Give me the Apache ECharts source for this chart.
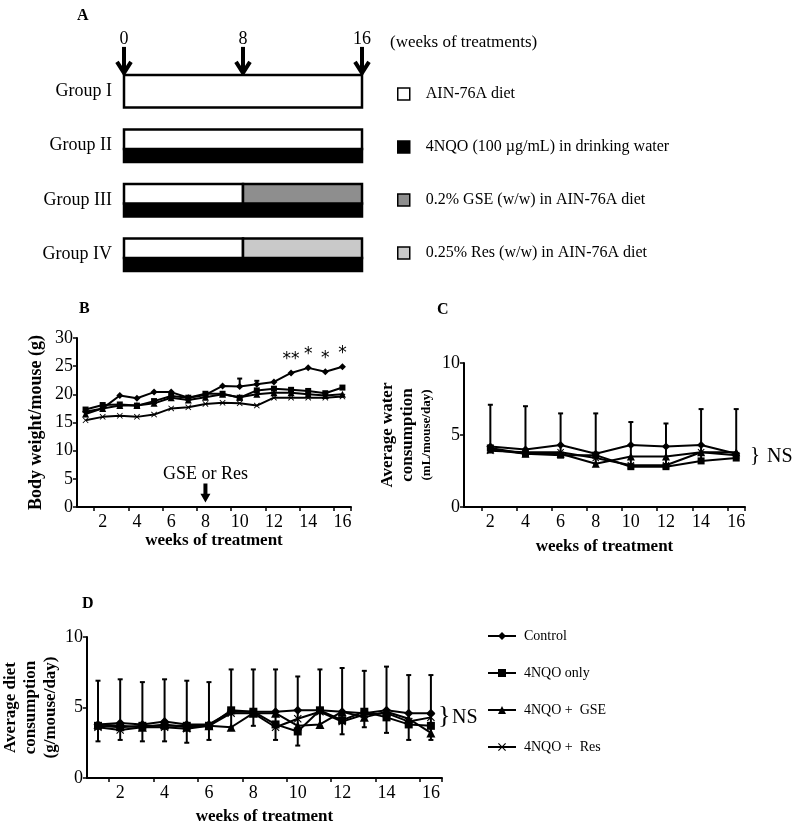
<!DOCTYPE html>
<head>
    <meta charset="utf-8">
    <title>ECharts</title>
</head>
<body style="margin:0">

<div id="main" style="height:830px;width:800px"></div>
<script src="https://cdn.jsdelivr.net/npm/echarts@6/dist/echarts.min.js"></script>

<script type="text/javascript">
// ---- panel A : treatment schedule ----
var groups = ['Group I', 'Group II', 'Group III', 'Group IV'];
var dietAIN = [[0, 16, 'Group I'], [0, 16, 'Group II'], [0, 8, 'Group III'], [0, 8, 'Group IV']];
var dietGSE = [[8, 16, 'Group III']];
var dietRes = [[8, 16, 'Group IV']];
var water4NQO = [[0, 16, 'Group II'], [0, 16, 'Group III'], [0, 16, 'Group IV']];
var arrowWeeks = [0, 8, 16];

// ---- panels B, C, D ----
var weeks = ['1','2','3','4','5','6','7','8','9','10','11','12','13','14','15','16'];
var seriesNames = ['Control', '4NQO only', '4NQO +  GSE', '4NQO +  Res'];

// B: body weight (g), weeks 1-16
var ctrlB = [16.9,17.5,19.8,19.3,20.4,20.4,19.4,19.9,21.5,21.4,21.8,22.2,23.8,24.7,24.0,24.9];
var nqoB  = [17.3,18.1,18.2,18.0,18.8,19.7,19.4,20.1,20.1,19.4,20.7,21.0,20.8,20.6,20.2,21.2];
var gseB  = [16.5,17.5,18.0,18.0,18.4,19.4,19.0,19.5,20.0,19.5,20.0,20.3,20.3,20.0,19.8,20.0];
var resB  = [15.4,16.0,16.2,16.0,16.4,17.5,17.7,18.3,18.5,18.4,18.0,19.4,19.4,19.4,19.4,19.6];
var ctrlBTop = [null,null,null,null,null,null,null,null,null,22.8,22.4,null,null,null,null,null];
var starsB = ['','','','','','','','','','','','','**','*','*','*'];

// C: water consumption, weeks 2,4,...,16
var weeksC = ['2','4','6','8','10','12','14','16'];
var ctrlC = [4.2,4.0,4.3,3.7,4.3,4.2,4.3,3.7];
var nqoC  = [4.1,3.7,3.6,3.6,2.8,2.8,3.2,3.4];
var gseC  = [4.0,3.7,3.7,3.0,3.5,3.5,3.8,3.8];
var resC  = [3.9,3.8,3.8,3.4,2.9,2.9,3.8,3.6];
var errCTop = [7.1,7.0,6.5,6.5,5.9,5.8,6.8,6.8];

// D: diet consumption, weeks 1-16
var ctrlD = [3.8,3.9,3.8,4.0,3.8,3.8,4.7,4.7,4.7,4.8,4.8,4.7,4.6,4.8,4.6,4.6];
var nqoD  = [3.7,3.6,3.7,3.7,3.7,3.7,4.8,4.7,3.8,3.3,4.8,4.1,4.7,4.3,3.8,3.7];
var gseD  = [3.8,3.7,3.6,3.8,3.6,3.7,3.6,4.6,4.6,3.7,3.8,4.7,4.3,4.7,4.2,3.2];
var resD  = [3.6,3.4,3.6,3.6,3.5,3.7,4.6,4.6,3.6,4.2,4.7,4.0,4.5,4.6,4.0,4.3];
var errDLow  = [2.6,2.7,2.6,2.6,2.5,2.7,3.6,3.7,2.7,2.3,3.7,3.1,3.6,3.2,2.7,2.7];
var errDHigh = [6.9,7.0,6.8,7.0,6.9,6.8,7.7,7.7,7.7,7.2,7.7,7.8,7.6,7.9,7.3,7.3];

var FONT = 'Liberation Serif';
var xPath = 'path://M0,1 L1,0 L5,4 L9,0 L10,1 L6,5 L10,9 L9,10 L5,6 L1,10 L0,9 L4,5 Z';
var symbols = ['diamond', 'rect', 'triangle', xPath];
var symSizes = [8, 7, 8, 7];

var myChart = echarts.init(document.getElementById('main'));

function waterHas(gi) {
    for (var i = 0; i < water4NQO.length; i++) {
        if (groups.indexOf(water4NQO[i][2]) === gi) return true;
    }
    return false;
}

function segRender(kind) {
    return function (params, api) {
        var gi = api.value(2);
        var s = api.coord([api.value(0), gi]);
        var e = api.coord([api.value(1), gi]);
        var h = api.size([0, 1])[1] * 0.6;
        var top = s[1] - h / 2;
        var y = top, hh = h;
        if (kind === 'diet') {
            hh = waterHas(gi) ? h * 0.6 : h;
        } else {
            y = top + h * 0.6;
            hh = h * 0.4;
        }
        return {
            type: 'rect',
            shape: { x: s[0], y: y, width: e[0] - s[0], height: hh },
            style: { fill: api.visual('color'), stroke: '#000', lineWidth: 2.5 }
        };
    };
}

function segData(arr) {
    return arr.map(function (d) { return [d[0], d[1], groups.indexOf(d[2])]; });
}

function arrowRender(params, api) {
    var p = api.coord([api.value(0), 0]);
    var h = api.size([0, 1])[1] * 0.6;
    var top = p[1] - h / 2 - 1;
    return {
        type: 'group',
        children: [
            { type: 'line', shape: { x1: p[0], y1: top - 27, x2: p[0], y2: top - 2 },
              style: { stroke: '#000', lineWidth: 4 } },
            { type: 'polyline', shape: { points: [[p[0] - 7, top - 12], [p[0], top - 1], [p[0] + 7, top - 12]] },
              style: { stroke: '#000', lineWidth: 4, fill: null } }
        ]
    };
}

function errRender(params, api) {
    var lo = api.coord([api.value(0), api.value(1)]);
    var hi = api.coord([api.value(0), api.value(2)]);
    var w = 2.5;
    return {
        type: 'group',
        children: [
            { type: 'line', shape: { x1: lo[0], y1: lo[1], x2: hi[0], y2: hi[1] }, style: { stroke: '#000', lineWidth: 2 } },
            { type: 'line', shape: { x1: hi[0] - w, y1: hi[1], x2: hi[0] + w, y2: hi[1] }, style: { stroke: '#000', lineWidth: 2 } },
            { type: 'line', shape: { x1: lo[0] - w, y1: lo[1], x2: lo[0] + w, y2: lo[1] }, style: { stroke: '#000', lineWidth: 2 } }
        ]
    };
}

// place weeks-2..16 values of panel C on the 16-week category axis
function onWeeks(vals) {
    var out = weeks.map(function () { return null; });
    weeksC.forEach(function (w, i) { out[weeks.indexOf(w)] = vals[i]; });
    return out;
}

function lineSeries(name, data, xi, sym, size) {
    return {
        name: name, type: 'line', xAxisIndex: xi, yAxisIndex: xi,
        data: data, connectNulls: true, symbol: sym, symbolSize: size,
        lineStyle: { color: '#000', width: 2 },
        itemStyle: { color: '#000' },
        z: 5
    };
}

var axisLine = { show: true, lineStyle: { color: '#000', width: 2 } };
var tick = { show: true, length: 4, lineStyle: { color: '#000', width: 1.5 } };
var lab = { color: '#000', fontSize: 18, fontFamily: FONT };
var nameStyle = { color: '#000', fontSize: 17, fontWeight: 'bold', fontFamily: FONT };
var evenLabels = function (i) { return i % 2 === 1; };

var catX = function (gi, gap) {
    return {
        type: 'category', gridIndex: gi, data: weeks, boundaryGap: true,
        axisLine: axisLine, axisTick: tick,
        axisLabel: Object.assign({ interval: evenLabels, margin: 6 }, lab),
        name: 'weeks of treatment', nameLocation: 'middle', nameGap: gap,
        nameTextStyle: nameStyle
    };
};

var series = [];
// panel A
var aSeries = [
    { name: 'AIN-76A diet', color: '#ffffff', data: dietAIN, kind: 'diet' },
    { name: '4NQO (100 \u00b5g/mL) in drinking water', color: '#000000', data: water4NQO, kind: 'water' },
    { name: '0.2% GSE (w/w) in AIN-76A diet', color: '#8e8e8e', data: dietGSE, kind: 'diet' },
    { name: '0.25% Res (w/w) in AIN-76A diet', color: '#c9c9c9', data: dietRes, kind: 'diet' }
];
aSeries.forEach(function (s) {
    series.push({
        name: s.name, type: 'custom', xAxisIndex: 0, yAxisIndex: 0,
        renderItem: segRender(s.kind), data: segData(s.data),
        encode: { x: [0, 1], y: 2 },
        itemStyle: { color: s.color, borderColor: '#000', borderWidth: 1.5 },
        z: s.kind === 'water' ? 2 : 3
    });
});
series.push({
    type: 'custom', xAxisIndex: 0, yAxisIndex: 0, renderItem: arrowRender,
    data: arrowWeeks.map(function (w) { return [w]; }), encode: { x: 0 }, silent: true
});

// panel B
var dataB = [ctrlB, nqoB, gseB, resB];
dataB.forEach(function (arr, k) {
    var s = lineSeries(seriesNames[k], arr, 1, symbols[k], symSizes[k] - 1);
    if (k === 0) {
        s.data = arr.map(function (v, i) {
            return { value: v, label: { show: !!starsB[i], formatter: starsB[i], position: 'top',
                distance: 1, fontSize: 17, color: '#000', fontFamily: 'DejaVu Sans' } };
        });
        s.markPoint = {
            symbol: 'path://M3,0 L7,0 L7,11 L10,11 L5,20 L0,11 L3,11 Z',
            symbolSize: [10, 19],
            itemStyle: { color: '#000' },
            label: { show: true, position: 'top', distance: 0, formatter: 'GSE or Res',
                fontSize: 18, color: '#000', fontFamily: FONT },
            data: [{ coord: ['8', 2.5] }]
        };
    }
    series.push(s);
});
series.push({
    type: 'custom', xAxisIndex: 1, yAxisIndex: 1, renderItem: errRender, silent: true,
    encode: { x: 0, y: [1, 2] },
    data: ctrlBTop.map(function (t, i) { return t === null ? null : [i, ctrlB[i], t]; })
        .filter(function (d) { return d; })
});

// panel C
var dataC = [ctrlC, nqoC, gseC, resC];
dataC.forEach(function (arr, k) {
    series.push(lineSeries(seriesNames[k], onWeeks(arr), 2, symbols[k], symSizes[k]));
});
series.push({
    type: 'custom', xAxisIndex: 2, yAxisIndex: 2, renderItem: errRender, silent: true,
    encode: { x: 0, y: [1, 2] },
    data: weeksC.map(function (w, i) {
        return [weeks.indexOf(w), Math.min(ctrlC[i], nqoC[i], gseC[i], resC[i]), errCTop[i]];
    })
});

// panel D
var dataD = [ctrlD, nqoD, gseD, resD];
dataD.forEach(function (arr, k) {
    series.push(lineSeries(seriesNames[k], arr, 3, symbols[k], symSizes[k] + 1));
});
series.push({
    type: 'custom', xAxisIndex: 3, yAxisIndex: 3, renderItem: errRender, silent: true,
    encode: { x: 0, y: [1, 2] },
    data: weeks.map(function (w, i) { return [i, errDLow[i], errDHigh[i]]; })
});

var letter = function (t, x, y) {
    return { type: 'text', left: x, top: y,
        style: { text: t, fontSize: 16, fontWeight: 'bold', fontFamily: FONT, fill: '#000' } };
};

var option = {
    animation: false,
    backgroundColor: '#fff',
    textStyle: { fontFamily: FONT },
    grid: [
        { left: 124, top: 64, width: 238, height: 218 },
        { left: 77, top: 338, width: 274, height: 169 },
        { left: 464, top: 363, width: 281, height: 144 },
        { left: 82, top: 637, width: 360, height: 141 }
    ],
    xAxis: [
        { type: 'value', gridIndex: 0, min: 0, max: 16, interval: 8, position: 'top',
          axisLine: { show: false }, axisTick: { show: false }, splitLine: { show: false },
          axisLabel: Object.assign({ margin: 16 }, lab) },
        catX(1, 24), catX(2, 31), catX(3, 30)
    ],
    yAxis: [
        { type: 'category', gridIndex: 0, data: groups, inverse: true,
          axisLine: { show: false }, axisTick: { show: false },
          axisLabel: Object.assign({ margin: 12 }, lab) },
        { type: 'value', gridIndex: 1, min: 0, max: 30, interval: 5,
          axisLine: axisLine, axisTick: tick, splitLine: { show: false },
          axisLabel: Object.assign({ margin: 4 }, lab),
          name: 'Body weight/mouse (g)', nameLocation: 'middle', nameGap: 32,
          nameTextStyle: Object.assign({}, nameStyle, { fontSize: 18 }) },
        { type: 'value', gridIndex: 2, min: 0, max: 10, interval: 5,
          axisLine: axisLine, axisTick: tick, splitLine: { show: false },
          axisLabel: Object.assign({ margin: 4 }, lab),
          name: '{a|Average water}\n{a|consumption}\n{b|(mL/mouse/day)}',
          nameLocation: 'middle', nameGap: 28,
          nameTextStyle: { rich: {
              a: { fontSize: 17, fontWeight: 'bold', fontFamily: FONT, color: '#000', lineHeight: 20 },
              b: { fontSize: 13, fontWeight: 'bold', fontFamily: FONT, color: '#000', lineHeight: 18 } } } },
        { type: 'value', gridIndex: 3, min: 0, max: 10, interval: 5,
          axisLine: axisLine, axisTick: tick, splitLine: { show: false },
          axisLabel: Object.assign({ margin: 4 }, lab),
          name: 'Average diet\nconsumption\n(g/mouse/day)',
          nameLocation: 'middle', nameGap: 18,
          nameTextStyle: Object.assign({ lineHeight: 20 }, nameStyle) }
    ],
    legend: [
        { orient: 'vertical', left: 392, top: 81, itemWidth: 12, itemHeight: 12, itemGap: 37,
          icon: 'rect', selectedMode: false,
          textStyle: { fontSize: 16, color: '#000', fontFamily: FONT, padding: [0, 0, 0, 11] },
          data: aSeries.map(function (s) {
              return { name: s.name, itemStyle: { color: s.color, borderColor: '#000', borderWidth: 1.5 } };
          }) },
        { orient: 'vertical', left: 482, top: 624, itemWidth: 28, itemHeight: 10, itemGap: 23,
          selectedMode: false,
          textStyle: { fontSize: 14, color: '#000', fontFamily: FONT, padding: [0, 0, 0, 3] },
          data: seriesNames }
    ],
    graphic: [
        letter('A', 77, 8),
        letter('B', 79, 301),
        letter('C', 437, 302),
        letter('D', 82, 596),
        { type: 'text', left: 390, top: 34,
          style: { text: '(weeks of treatments)', fontSize: 17, fontFamily: FONT, fill: '#000' } },
        { type: 'text', left: 750, top: 445,
          style: { text: '}', fontSize: 21, fontFamily: FONT, fill: '#000' } },
        { type: 'text', left: 767, top: 447,
          style: { text: 'NS', fontSize: 20, fontFamily: FONT, fill: '#000' } },
        { type: 'text', left: 438, top: 703,
          style: { text: '}', fontSize: 26, fontFamily: FONT, fill: '#000' } },
        { type: 'text', left: 452, top: 708,
          style: { text: 'NS', fontSize: 20, fontFamily: FONT, fill: '#000' } }
    ],
    series: series
};

myChart.setOption(option);
</script>
</body>
